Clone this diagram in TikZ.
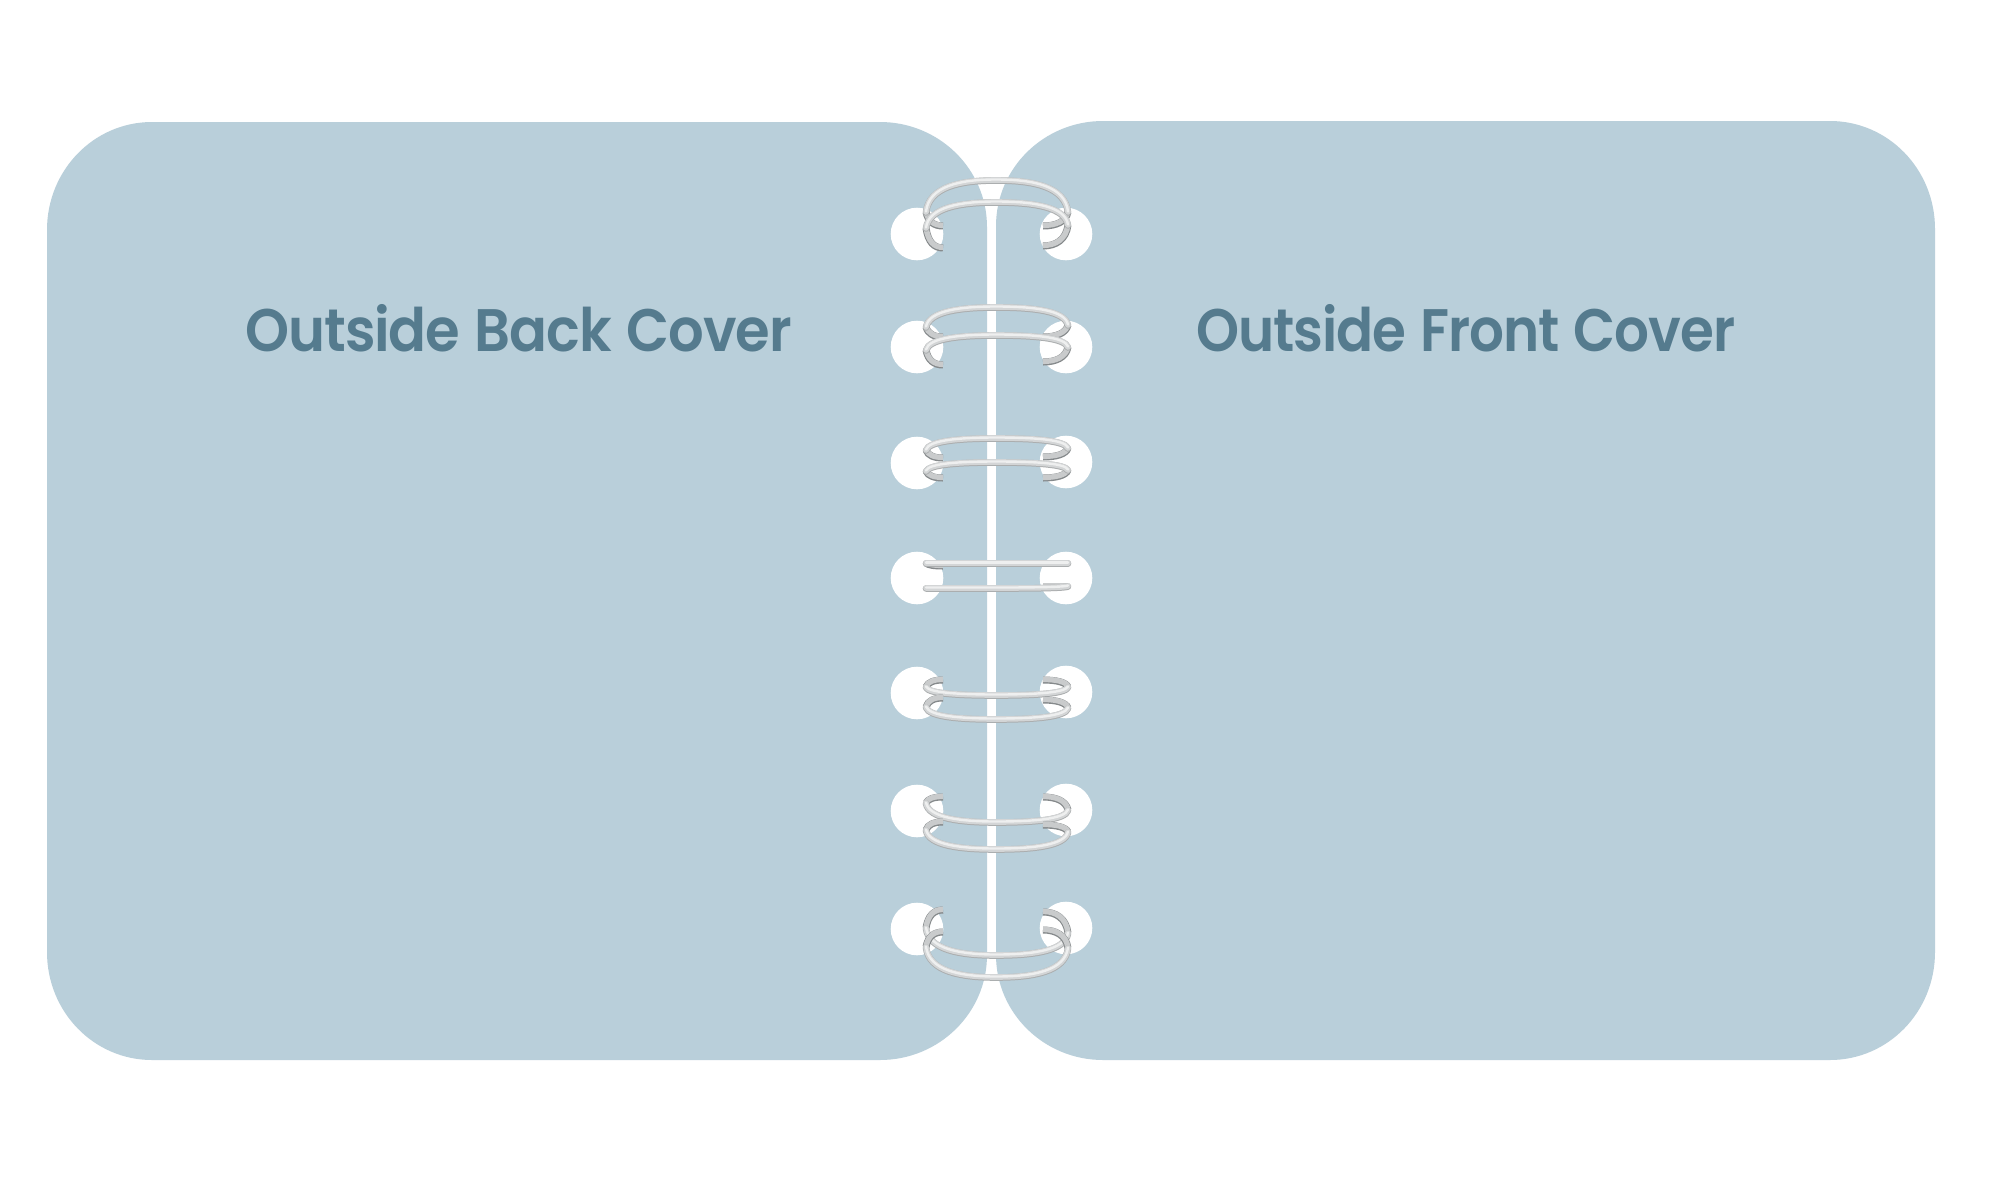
\documentclass[tikz,border=0pt]{standalone}
\usepackage{fontspec}
\newfontfamily\covfont[LetterSpace=-2,WordSpace=1.2]{Poppins SemiBold}
\definecolor{panel}{HTML}{B9CFDA}
\definecolor{covertext}{HTML}{557B8E}
\definecolor{wireedge}{HTML}{ABAEAF}
\definecolor{wiremid}{HTML}{D3D5D6}
\definecolor{wirelight}{HTML}{EEEFEF}
\definecolor{hookedge}{HTML}{85898B}
\definecolor{hookmid}{HTML}{C9CBCC}
\tikzset{
  panelshape/.style={fill=panel,draw=none},
  holeshape/.style={fill=white,draw=none},
  covertitle/.style={text=covertext,inner sep=0pt,anchor=base west,font=\covfont\fontsize{60}{60}\selectfont},
  wirelow/.style={line cap=round,line width=6.6pt,draw=wireedge,yshift=-0.5pt},
  wirehigh/.style={line cap=round,line width=5.6pt,draw=wiremid},
  wiretop/.style={line cap=round,line width=2.4pt,draw=wirelight,yshift=0.5pt},
  hooklow/.style={line cap=butt,line width=7pt,draw=hookedge},
  hookhigh/.style={line cap=butt,line width=5.4pt,draw=hookmid,yshift=0.6pt}
}
% #1 left hook end y, #2 left bend y, #3 middle y, #4 right bend y, #5 right hook end y
\newcommand{\coilarc}[5]{%
  \def\hookL{(926,#2) .. controls (928,{#2+(#1-#2)*.7}) and (934,#1) .. (943,#1)}%
  \def\hookR{(1068,#4) .. controls (1066,{#4+(#5-#4)*.7}) and (1056,#5) .. (1043,#5)}%
  \def\archpath{(926,#2) .. controls (929,{#3+(#2-#3)*.2}) and (960,#3) .. (996,#3) .. controls (1034,#3) and (1065,{#3+(#4-#3)*.2}) .. (1068,#4)}%
  \draw[hooklow] \hookL;
  \draw[hookhigh] \hookL;
  \draw[hooklow] \hookR;
  \draw[hookhigh] \hookR;
  \draw[wirelow] \archpath;
  \draw[wirehigh] \archpath;
  \draw[wiretop] \archpath;
}
\begin{document}
\begin{tikzpicture}[x=1pt,y=-1pt]
\useasboundingbox (0,0) rectangle (2000,1200);
\fill[white] (0,0) rectangle (2000,1200);
% left cover
\fill[panelshape] (152,122) -- (880,122)
  .. controls (939,122) and (987,169) .. (987,227) -- (987,955)
  .. controls (987,1013) and (939,1060) .. (880,1060) -- (152,1060)
  .. controls (94,1060) and (47,1012) .. (47,952) -- (47,230)
  .. controls (47,170) and (94,122) .. (152,122) -- cycle;
% right cover
\fill[panelshape] (1103,121) -- (1830,121)
  .. controls (1888,121) and (1935,169) .. (1935,229) -- (1935,952)
  .. controls (1935,1012) and (1888,1060) .. (1830,1060) -- (1103,1060)
  .. controls (1044,1060) and (996,1013) .. (996,955) -- (996,226)
  .. controls (996,168) and (1044,121) .. (1103,121) -- cycle;
% holes
\foreach \yl/\yr in {234/234,347/347,463/462,578/578,693/692,811/810,929/928}{
  \fill[holeshape] (917,\yl) circle[radius=26.3];
  \fill[holeshape] (1066,\yr) circle[radius=26.3];
}
% coils
\coilarc{226}{212}{180}{212}{226}
\coilarc{248}{228}{202}{225}{246}
\coilarc{337}{327}{307}{325}{337}
\coilarc{365}{350}{335}{347}{362}
\coilarc{458}{450}{438}{448}{457}
\coilarc{478}{471}{462}{470}{478}
\coilarc{566}{563}{563}{563}{563}
\coilarc{588}{588}{588}{586}{586}
\coilarc{680}{687}{695}{687}{680}
\coilarc{698}{707}{719}{708}{700}
\coilarc{797}{803}{822}{810}{797}
\coilarc{822}{830}{849}{832}{825}
\coilarc{910}{928}{955}{933}{912}
\coilarc{932}{947}{977}{948}{930}
% titles
\node[covertitle] (backtitle) at (245.5,351) {\resizebox{546pt}{\height}{Outside Back Cover}};
\node[covertitle] (fronttitle) at (1196,351) {\resizebox{539pt}{\height}{Outside Front Cover}};
\end{tikzpicture}
\end{document}
